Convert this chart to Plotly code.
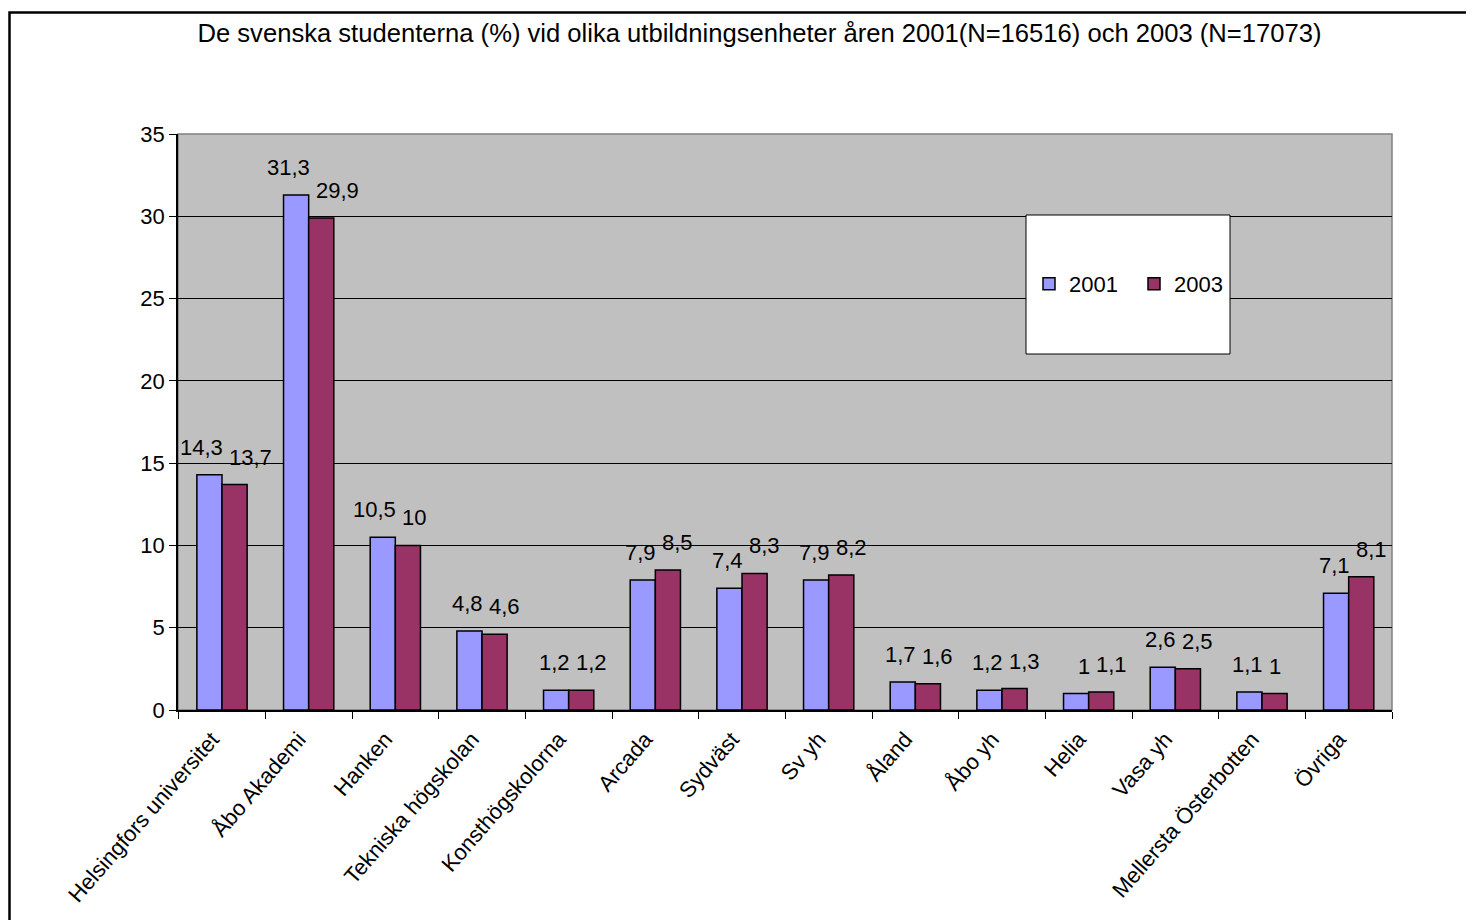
import plotly.graph_objects as go

categories = ["Helsingfors universitet", "Åbo Akademi", "Hanken", "Tekniska högskolan",
              "Konsthögskolorna", "Arcada", "Sydväst", "Sv yh", "Åland", "Åbo yh",
              "Helia", "Vasa yh", "Mellersta Österbotten", "Övriga"]
values_2001 = [14.3, 31.3, 10.5, 4.8, 1.2, 7.9, 7.4, 7.9, 1.7, 1.2, 1.0, 2.6, 1.1, 7.1]
values_2003 = [13.7, 29.9, 10.0, 4.6, 1.2, 8.5, 8.3, 8.2, 1.6, 1.3, 1.1, 2.5, 1.0, 8.1]
y_ticks = [0, 5, 10, 15, 20, 25, 30, 35]
title_text = "De svenska studenterna (%) vid olika utbildningsenheter åren 2001(N=16516) och 2003 (N=17073)"


def fmt(v):
    return ("%g" % v).replace(".", ",")


FONT = "Liberation Sans, Arial, sans-serif"
OFF = 8  # page body margin
W, H = 1474 - OFF, 920 - OFF
L, R, T, B = 178 - OFF, 1392 - OFF, 134 - OFF, 710 - OFF  # plot area in figure pixels


def px_x(x):
    return (x - OFF - L) / (R - L)


def px_y(y):
    return (B - (y - OFF)) / (B - T)


fig = go.Figure()
fig.add_trace(go.Bar(
    name="2001", x=categories, y=values_2001,
    marker=dict(color="#9999FF", line=dict(color="black", width=1.5)),
))
fig.add_trace(go.Bar(
    name="2003", x=categories, y=values_2003,
    marker=dict(color="#993366", line=dict(color="black", width=1.5)),
))

annotations = []
for c, v in zip(categories, values_2001):
    annotations.append(dict(x=c, y=v, xref="x", yref="y", text=fmt(v), showarrow=False,
                            xanchor="right", yanchor="bottom", xshift=3, yshift=13,
                            font=dict(size=22, family=FONT, color="black")))
for c, v in zip(categories, values_2003):
    annotations.append(dict(x=c, y=v, xref="x", yref="y", text=fmt(v), showarrow=False,
                            xanchor="left", yanchor="bottom", xshift=5, yshift=13,
                            font=dict(size=22, family=FONT, color="black")))

fig.update_layout(
    width=W, height=H,
    margin=dict(l=L, r=W - R, t=T, b=H - B, autoexpand=False),
    paper_bgcolor="white", plot_bgcolor="#C0C0C0",
    font=dict(family=FONT, size=22, color="black"),
    barmode="group", bargap=0.42, bargroupgap=0,
    title=dict(text=title_text, x=(759.5 - OFF) / W, xanchor="center", xref="container",
               y=1 - (33 - OFF) / H, yanchor="middle", yref="container",
               font=dict(size=25.6, family=FONT, color="black")),
    legend=dict(orientation="h", x=px_x(1134), y=px_y(284), xanchor="center", yanchor="middle",
                bgcolor="rgba(0,0,0,0)", font=dict(size=22, family=FONT),
                entrywidth=60, traceorder="normal"),
    showlegend=True,
    xaxis=dict(showline=True, linecolor="black", linewidth=1.5, ticks="outside",
               tickson="boundaries", ticklen=7, tickcolor="black", tickangle=-49,
               ticklabelshift=-10, ticklabelstandoff=6,
               tickfont=dict(size=22, family=FONT), showgrid=False),
    yaxis=dict(range=[0, 35], tickvals=y_ticks, showline=True, linecolor="black", linewidth=1.5,
               ticks="outside", ticklen=7, tickcolor="black", showgrid=True,
               gridcolor="black", gridwidth=1, zeroline=False,
               tickfont=dict(size=22, family=FONT)),
    annotations=annotations,
    shapes=[
        # outer chart frame (extends beyond window right/bottom)
        dict(type="rect", xref="paper", yref="paper",
             x0=px_x(9.5), x1=px_x(1500), y0=px_y(940), y1=px_y(12.5),
             line=dict(color="black", width=2.5), fillcolor="rgba(0,0,0,0)", layer="above"),
        # plot area border (gray, top/right)
        dict(type="rect", xref="paper", yref="paper", x0=0, x1=1, y0=0, y1=1,
             line=dict(color="#808080", width=1.5), fillcolor="rgba(0,0,0,0)", layer="below"),
        # legend box
        dict(type="rect", xref="paper", yref="paper",
             x0=px_x(1026), x1=px_x(1230), y0=px_y(354), y1=px_y(215),
             line=dict(color="black", width=1), fillcolor="white", layer="above"),
    ],
)

fig.write_html("out.html")
